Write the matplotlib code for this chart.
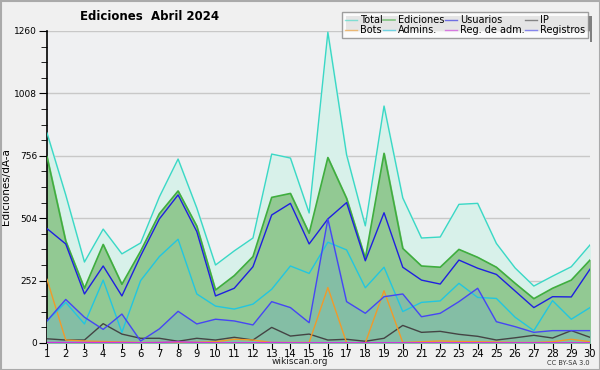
import matplotlib
matplotlib.use("Agg")
import matplotlib.pyplot as plt
from matplotlib.ticker import MultipleLocator
from matplotlib.patches import Rectangle

days = list(range(1, 31))
total = [848, 598, 327, 460, 360, 404, 590, 743, 545, 315, 372, 424, 763, 747, 525,
         1255, 760, 473, 957, 586, 424, 428, 560, 564, 402, 303, 230, 270, 308, 396]
ediciones = [752, 412, 221, 398, 237, 371, 522, 614, 472, 214, 272, 349, 588, 604, 443,
             749, 584, 342, 766, 382, 311, 306, 378, 346, 306, 241, 179, 221, 254, 335]
usuarios = [462, 400, 198, 311, 190, 352, 501, 598, 450, 190, 221, 308, 517, 564, 400,
            501, 567, 332, 526, 306, 254, 238, 335, 302, 277, 210, 143, 187, 186, 298]
ip = [17, 12, 12, 78, 36, 19, 19, 7, 19, 12, 23, 12, 63, 28, 36,
      12, 15, 7, 19, 71, 43, 47, 35, 27, 12, 21, 31, 20, 50, 23]
bots = [257, 12, 8, 6, 4, 2, 2, 1, 3, 5, 15, 12, 2, 2, 2,
        224, 1, 0, 211, 2, 5, 8, 6, 5, 4, 2, 2, 5, 15, 5]
admins = [89, 164, 77, 254, 43, 252, 349, 419, 198, 149, 137, 157, 217, 311, 281,
          407, 376, 223, 306, 127, 164, 170, 241, 184, 180, 104, 50, 171, 96, 143]
reg_adm = [2, 2, 2, 2, 2, 1, 2, 5, 2, 1, 1, 1, 2, 1, 1,
           1, 1, 1, 1, 1, 1, 1, 1, 1, 1, 1, 1, 1, 1, 1]
registros = [89, 176, 104, 55, 117, 8, 57, 128, 77, 96, 89, 73, 167, 143, 82,
             501, 167, 120, 187, 198, 106, 120, 167, 221, 86, 66, 43, 50, 50, 50]

colors = {"Total": "#3ad8c6", "Ediciones": "#3fae3f", "Usuarios": "#1f1fe0", "IP": "#444444",
          "Bots": "#f09a2a", "Admins.": "#22c6e0", "Reg. de adm.": "#cc33dd", "Registros": "#4646f4"}

plt.rcParams['font.family'] = ['DejaVu Sans']

fig = plt.figure(figsize=(6, 3.7), dpi=100, facecolor="#f0f0f0")
ax = fig.add_axes([47/600, 27/370, 543/600, 312/370])
ax.set_facecolor("#eff0f2")

ax.fill_between(days, total, 0, color="#d8f1ea", zorder=1)
ax.fill_between(days, ediciones, 0, color="#92c993", zorder=2)
ax.fill_between(days, registros, 0, color="#84bea5", zorder=3)

series = [("Total", total), ("Ediciones", ediciones), ("Usuarios", usuarios), ("IP", ip),
          ("Bots", bots), ("Admins.", admins), ("Reg. de adm.", reg_adm), ("Registros", registros)]
handles = {}
for name, vals in series:
    lw = 1.2 if name == "Ediciones" else 1.0
    h, = ax.plot(days, vals, color=colors[name], lw=lw, zorder=5)
    handles[name] = h

ax.set_xlim(1, 30)
ax.set_ylim(0, 1260)
ax.set_xticks(days)
ax.set_yticks([0, 252, 504, 756, 1008, 1260])
ax.yaxis.set_minor_locator(MultipleLocator(63))
ax.grid(axis='y', color="#c8c8c8", lw=1, zorder=0)
ax.set_axisbelow(True)
for s in ("top", "right"):
    ax.spines[s].set_visible(False)
ax.spines["left"].set_linewidth(1.2)
ax.spines["bottom"].set_linewidth(1.2)
ax.tick_params(axis='y', which='major', length=6, labelsize=6.5, pad=1, colors="#000000")
ax.tick_params(axis='y', which='minor', length=4)
ax.tick_params(axis='x', length=4, labelsize=7.2, pad=0)
ax.set_ylabel("Ediciones/dÃ-a", fontsize=7.5)
ax.yaxis.set_label_coords((11 - 47) / 543, 0.5)

fig.text(150/600, 1 - 17/370, "Ediciones  Abril 2024", ha="center", va="center",
         fontsize=8.5, fontweight="bold")
fig.text(300/600, 1 - 362/370, "wikiscan.org", ha="center", va="center", fontsize=6.5, color="#222222")
fig.text(590/600, 1 - 363/370, "CC BY-SA 3.0", ha="right", va="center", fontsize=4.8, color="#333333")

leg_order = ["Total", "Bots", "Ediciones", "Admins.", "Usuarios", "Reg. de adm.", "IP", "Registros"]
leg = fig.legend([handles[k] for k in leg_order], leg_order, ncol=4, loc="upper right",
                 bbox_to_anchor=(588/600, 1 - 12/370), fontsize=7, frameon=True,
                 fancybox=False, shadow=False, handlelength=1.2, handletextpad=0.3,
                 columnspacing=0.1, labelspacing=0.05, borderpad=0.3, borderaxespad=0)
leg.get_frame().set_edgecolor("#888888")
leg.get_frame().set_facecolor("#ffffff")
leg.get_frame().set_linewidth(1)
for line in leg.get_lines():
    line.set_alpha(0.6)
fig.canvas.draw()
bb = leg.get_window_extent().transformed(fig.transFigure.inverted())
fig.patches.append(Rectangle((bb.x0 + 4/600, bb.y0 - 4/370), bb.width, bb.height,
                             transform=fig.transFigure, facecolor="#808080",
                             edgecolor="none", zorder=-1))
leg.set_zorder(10)

fig.patches.append(Rectangle((0.5/600, 0.5/370), 599/600, 369/370, transform=fig.transFigure,
                             facecolor="none", edgecolor="#aaaaaa", lw=1.5))

fig.savefig("out.png", dpi=100, facecolor=fig.get_facecolor())
